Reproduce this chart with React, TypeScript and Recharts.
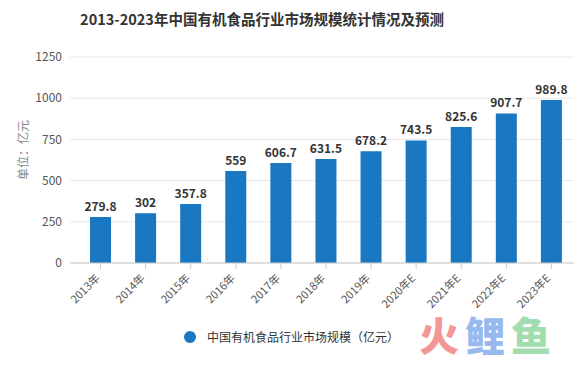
import { BarChart, Bar, XAxis, YAxis, CartesianGrid, LabelList, Label } from 'recharts'

const anos = ['2013年', '2014年', '2015年', '2016年', '2017年', '2018年', '2019年', '2020年E', '2021年E', '2022年E', '2023年E']
const mercado = [279.8, 302, 357.8, 559, 606.7, 631.5, 678.2, 743.5, 825.6, 907.7, 989.8]
const ticksY = [0, 250, 500, 750, 1000, 1250]

const titulo = '2013-2023年中国有机食品行业市场规模统计情况及预测'
const serieNome = '中国有机食品行业市场规模（亿元）'

const dados = anos.map((ano, i) => ({ ano, valor: mercado[i] }))

const fonte = '"Noto Sans CJK SC", "Open Sans", sans-serif'

function TickX({ x, y, payload }: any) {
  return (
    <text
      x={x}
      y={y + 8}
      textAnchor="end"
      transform={`rotate(-45, ${x}, ${y + 8})`}
      fontSize={11}
      fill="#555"
      fontFamily={fonte}
    >
      {payload.value}
    </text>
  )
}

export default function App() {
  return (
    <div style={{ position: 'absolute', left: 0, top: 0, width: 588, height: 366, background: '#fff', fontFamily: fonte, overflow: 'hidden' }}>
      <div style={{ position: 'absolute', top: 8, left: 80, width: 364, textAlign: 'center', fontSize: 14.5, fontWeight: 700, color: '#333', whiteSpace: 'nowrap' }}>
        {titulo}
      </div>
      <BarChart width={588} height={366} data={dados} margin={{ top: 57, right: 14, left: 0, bottom: 43 }}>
        <CartesianGrid vertical={false} stroke="#e6e6e6" />
        <XAxis
          dataKey="ano"
          interval={0}
          padding={{ left: 8, right: 0 }}
          tick={<TickX />}
          tickLine={{ stroke: '#ccc' }}
          axisLine={{ stroke: '#ccc' }}
          height={60}
        />
        <YAxis
          domain={[0, 1250]}
          ticks={ticksY}
          width={70}
          axisLine={false}
          tickLine={false}
          tick={{ fontSize: 12, fill: '#555', fontFamily: fonte }}
        >
          <Label value="单位：亿元" angle={-90} position="insideLeft" offset={24} dy={-10} style={{ fontSize: 12, fill: '#888', textAnchor: 'middle' }} />
        </YAxis>
        <Bar dataKey="valor" fill="#1a78c2" barSize={21} isAnimationActive={false}>
          <LabelList dataKey="valor" position="top" offset={6} style={{ fontSize: 12, fontWeight: 700, fill: '#333', fontFamily: fonte }} />
        </Bar>
      </BarChart>
      <div style={{ position: 'absolute', top: 328, left: 183, display: 'flex', alignItems: 'center' }}>
        <svg width={14} height={14}>
          <circle cx={7} cy={7} r={6} fill="#1a78c2" />
        </svg>
        <span style={{ marginLeft: 10, fontSize: 12, color: '#333' }}>{serieNome}</span>
      </div>
      <div style={{ position: 'absolute', left: 419, top: 314, fontSize: 40, lineHeight: 1, fontWeight: 900, letterSpacing: 6, opacity: 0.7, whiteSpace: 'nowrap' }}>
        <span style={{ color: '#f26b6b' }}>火</span>
        <span style={{ color: '#6a9de8' }}>鲤</span>
        <span style={{ color: '#7ccf8e' }}>鱼</span>
      </div>
    </div>
  )
}
